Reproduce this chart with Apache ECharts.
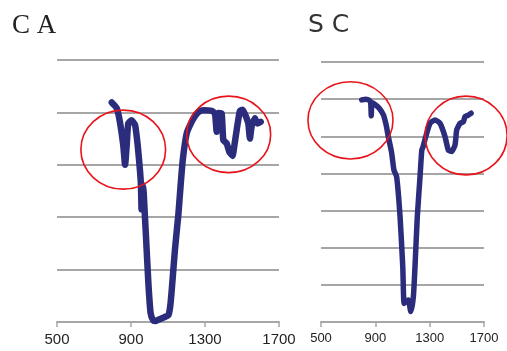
<!DOCTYPE html>
<html>
<head>
<meta charset="utf-8">
<script src="https://cdn.jsdelivr.net/npm/echarts@6/dist/echarts.min.js"></script>
<style>
html,body{margin:0;padding:0;background:#fff;}
#chart{width:507px;height:351px;}
</style>
</head>
<body>
<div id="chart"></div>
<script>
// Panel titles
var panelTitles = ['C A', 'S C'];
// X tick labels (shared)
var xTicks = [500, 900, 1300, 1700];

// C A spectrum
var caWavenumber = [796, 823, 840, 858, 868, 877, 885, 903, 922, 936, 949, 954, 957, 962, 968, 974, 980, 994, 1006, 1020, 1030, 1066, 1102, 1112, 1120, 1138, 1156, 1168, 1180, 1201, 1225, 1246, 1270, 1291, 1336, 1354, 1363, 1372, 1390, 1399, 1417, 1431, 1449, 1458, 1474, 1489, 1504, 1518, 1534, 1543, 1552, 1570, 1583, 1601];
var caValue = [4.19, 4.08, 3.82, 3.38, 3.0, 3.38, 3.79, 3.85, 3.76, 3.38, 2.87, 2.6, 2.15, 2.62, 2.5, 2.1, 1.7, 0.74, 0.17, 0.03, 0.02, 0.07, 0.13, 0.3, 0.6, 1.4, 2.05, 2.6, 3.1, 3.6, 3.8, 3.93, 4.02, 4.04, 4.03, 3.98, 3.63, 3.99, 3.98, 3.47, 3.41, 3.25, 3.17, 3.35, 3.73, 4.03, 4.05, 3.95, 3.79, 3.5, 3.73, 3.89, 3.79, 3.82];

// S C spectrum
var scWavenumber = [800, 830, 855, 866, 870, 875, 900, 930, 959, 980, 995, 1019, 1037, 1057, 1082, 1102, 1111, 1125, 1143, 1161, 1180, 1192, 1209, 1229, 1242, 1250, 1278, 1303, 1339, 1376, 1413, 1437, 1462, 1487, 1499, 1524, 1548, 1560, 1585, 1605];
var scValue = [5.98, 6.0, 5.97, 5.9, 5.55, 5.9, 5.85, 5.75, 5.58, 5.3, 5.0, 4.58, 4.09, 3.91, 2.84, 1.49, 0.5, 0.55, 0.59, 0.28, 0.68, 1.49, 2.84, 3.91, 4.63, 4.7, 5.08, 5.35, 5.44, 5.35, 4.99, 4.63, 4.59, 4.77, 5.17, 5.35, 5.39, 5.53, 5.57, 5.62];

// Red annotation ellipses [centerX, centerY, radiusX, radiusY] in data units
var caEllipses = [[858, 3.29, 229, 0.754], [1428, 3.58, 227, 0.73]];
var scEllipses = [[717, 5.43, 313, 1.04], [1568, 5.02, 302, 1.06]];

function pairs(xs, ys) { return xs.map(function (x, i) { return [x, ys[i]]; }); }

var lineColor = '#2b2d7c';
var gridColor = '#a6a6a6';

function ellipseRender(params, api) {
  var c = api.coord([api.value(0), api.value(1)]);
  var s = api.size([api.value(2), api.value(3)]);
  return {
    type: 'ellipse',
    shape: { cx: c[0], cy: c[1], rx: s[0], ry: s[1] },
    style: { fill: null, stroke: '#e8141b', lineWidth: 1.6 }
  };
}

function xAxisFor(idx, fontSize) {
  return {
    type: 'value', gridIndex: idx, min: 500, max: 1700, interval: 400,
    axisLine: { show: true, lineStyle: { color: gridColor, width: 2 } },
    splitLine: { show: false },
    axisLabel: {
      color: '#222', fontFamily: 'Liberation Sans', fontSize: fontSize, margin: 10,
      customValues: xTicks,
      formatter: function (v) { return String(v); }
    },
    axisTick: { show: true, length: 5, customValues: xTicks, lineStyle: { color: gridColor, width: 1.5 } }
  };
}

function yAxisFor(idx, max) {
  return {
    type: 'value', gridIndex: idx, min: 0, max: max, interval: 1,
    axisLine: { show: false }, axisTick: { show: false }, axisLabel: { show: false },
    splitLine: { show: true, lineStyle: { color: gridColor, width: 2 } }
  };
}

var chart = echarts.init(document.getElementById('chart'), null, { renderer: 'canvas' });
chart.setOption({
  animation: false,
  backgroundColor: '#fff',
  title: [
    { text: panelTitles[0], left: 7, top: 7, textStyle: { fontFamily: 'Liberation Serif', fontWeight: 'normal', fontSize: 27, color: '#222' } },
    { text: panelTitles[1], left: 303, top: 8, textStyle: { fontFamily: 'DejaVu Sans', fontWeight: 'normal', fontSize: 25, color: '#333' } }
  ],
  grid: [
    { left: 57, top: 60, width: 222, height: 262 },
    { left: 321, top: 62, width: 163, height: 260 }
  ],
  xAxis: [xAxisFor(0, 15), xAxisFor(1, 13)],
  yAxis: [yAxisFor(0, 5), yAxisFor(1, 7)],
  series: [
    {
      type: 'line', xAxisIndex: 0, yAxisIndex: 0, data: pairs(caWavenumber, caValue),
      showSymbol: false, symbol: 'none', smooth: 0.15,
      lineStyle: { color: lineColor, width: 6.5, cap: 'round', join: 'round' }, z: 3
    },
    {
      type: 'line', xAxisIndex: 1, yAxisIndex: 1, data: pairs(scWavenumber, scValue),
      showSymbol: false, symbol: 'none', smooth: 0.15,
      lineStyle: { color: lineColor, width: 5.5, cap: 'round', join: 'round' }, z: 3
    },
    { type: 'custom', xAxisIndex: 0, yAxisIndex: 0, data: caEllipses, renderItem: ellipseRender, clip: false, z: 5, silent: true },
    { type: 'custom', xAxisIndex: 1, yAxisIndex: 1, data: scEllipses, renderItem: ellipseRender, clip: false, z: 5, silent: true }
  ]
});
</script>
</body>
</html>
